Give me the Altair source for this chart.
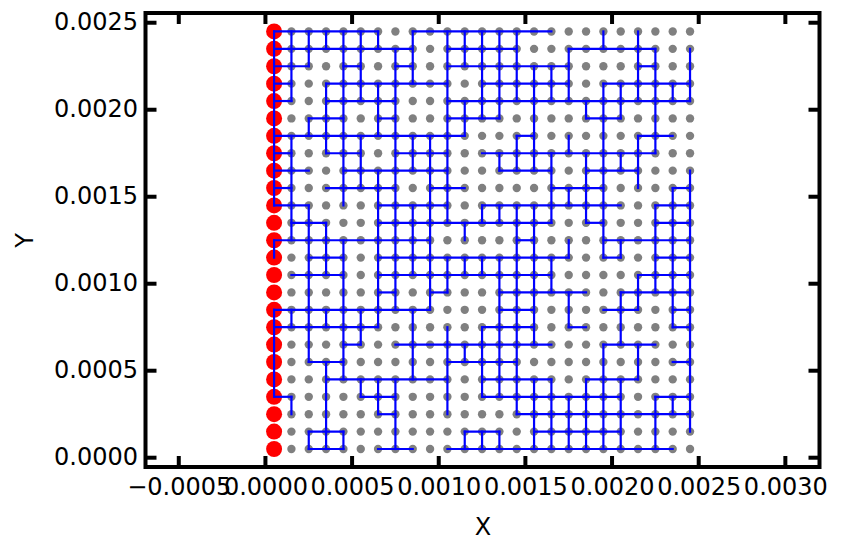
import altair as alt
import pandas as pd

# lattice
N = 25
STEP = 0.0001
ORIGIN = 0.00005
x_ticks = [-0.0005, 0.0, 0.0005, 0.001, 0.0015, 0.002, 0.0025, 0.003]
y_ticks = [0.0, 0.0005, 0.001, 0.0015, 0.002, 0.0025]
x_domain = [-0.000692, 0.003197]
y_domain = [-0.0000534, 0.002556]

# horizontal runs per row (row 0 = top): (first column, last column)
h_runs = {
    0: [(0, 6), (8, 16)],
    1: [(0, 8), (10, 14), (17, 22)],
    2: [(0, 2), (4, 5), (7, 8), (10, 17), (21, 22)],
    3: [(0, 1), (3, 10), (12, 17), (19, 24)],
    4: [(0, 1), (3, 7), (10, 24)],
    5: [(2, 4), (6, 7), (10, 13), (18, 20)],
    6: [(0, 11), (14, 15), (21, 23)],
    7: [(0, 1), (3, 5), (7, 10), (12, 22)],
    8: [(0, 2), (4, 10), (13, 16), (18, 21)],
    9: [(0, 1), (3, 7), (9, 11), (16, 19), (23, 24)],
    10: [(0, 2), (6, 10), (12, 20), (22, 24)],
    11: [(1, 3), (6, 16), (18, 19), (22, 24)],
    12: [(0, 9), (14, 15), (19, 24)],
    13: [(2, 4), (6, 17), (19, 20), (22, 24)],
    14: [(1, 4), (6, 16), (21, 24)],
    15: [(6, 7), (9, 10), (13, 18), (20, 24)],
    16: [(0, 9), (13, 15), (19, 21), (23, 24)],
    17: [(0, 6), (12, 15), (17, 18), (23, 24)],
    18: [(4, 5), (7, 16), (19, 22)],
    19: [(2, 4), (10, 14), (23, 24)],
    20: [(3, 10), (12, 16), (18, 21)],
    21: [(0, 1), (5, 7), (12, 20), (22, 24)],
    22: [(6, 7), (14, 24)],
    23: [(2, 4), (11, 13), (15, 20)],
    24: [(2, 4), (6, 8), (10, 23)],
}

# vertical runs per column: (first row, last row)
v_runs = {
    0: [(0, 10), (12, 13), (16, 21)],
    1: [(0, 4), (6, 12), (16, 17), (21, 22)],
    2: [(0, 2), (5, 6), (10, 19), (23, 24)],
    3: [(0, 1), (3, 7), (11, 14), (16, 17), (19, 24)],
    4: [(0, 10), (12, 20), (23, 24)],
    5: [(0, 4), (6, 9), (16, 18), (20, 21)],
    6: [(0, 1), (3, 6), (8, 17), (20, 22)],
    7: [(1, 16), (20, 24)],
    8: [(0, 3), (6, 8), (10, 14), (16, 20)],
    9: [(6, 16)],
    10: [(0, 11), (13, 15), (17, 22)],
    11: [(0, 2), (4, 6), (11, 12), (13, 14), (18, 19), (23, 24)],
    12: [(0, 5), (10, 11), (13, 14), (17, 21), (23, 24)],
    13: [(0, 5), (7, 8), (10, 11), (13, 21), (23, 24)],
    14: [(0, 4), (6, 8), (10, 22)],
    15: [(2, 8), (10, 18), (20, 24)],
    16: [(2, 4), (7, 11), (13, 15), (20, 24)],
    17: [(1, 4), (6, 7), (9, 10), (12, 13), (15, 17), (21, 24)],
    18: [(4, 5), (7, 11), (20, 24)],
    19: [(0, 1), (3, 13), (18, 24)],
    20: [(3, 5), (7, 8), (12, 13), (15, 18), (20, 24)],
    21: [(0, 4), (6, 9), (14, 16), (18, 20)],
    22: [(1, 7), (10, 15), (21, 24)],
    23: [(3, 4), (9, 17), (21, 22)],
    24: [(1, 4), (8, 23)],
}


def cx(c):
    return ORIGIN + c * STEP


def ry(r):
    return ORIGIN + (N - 1 - r) * STEP


segments = []
for r, runs in h_runs.items():
    for a, b in runs:
        segments.append({"x": cx(a), "x2": cx(b), "y": ry(r), "y2": ry(r)})
for c, runs in v_runs.items():
    for a, b in runs:
        segments.append({"x": cx(c), "x2": cx(c), "y": ry(a), "y2": ry(b)})
seg_df = pd.DataFrame(segments)

gray_df = pd.DataFrame([{"x": cx(c), "y": ry(r)} for c in range(1, N) for r in range(N)])
red_df = pd.DataFrame([{"x": cx(0), "y": ry(r)} for r in range(N)])
xt_df = pd.DataFrame({"t": x_ticks})
yt_df = pd.DataFrame({"t": y_ticks})

W = 674
H = 454
TICK = 11
FONT = "DejaVu Sans"

xs = alt.Scale(domain=x_domain, nice=False, zero=False)
ys = alt.Scale(domain=y_domain, nice=False, zero=False)

x_axis = alt.Axis(values=x_ticks, format=".4f", title="X", grid=False, ticks=False, domain=False,
                  labelFont=FONT, labelFontSize=24, labelColor="black", labelPadding=8,
                  labelOverlap=False, labelBound=False, labelFlush=False,
                  titleFont=FONT, titleFontSize=24, titleFontWeight="normal", titleColor="black",
                  titlePadding=16)
y_axis = alt.Axis(values=y_ticks, format=".4f", title="Y", grid=False, ticks=False, domain=False,
                  labelFont=FONT, labelFontSize=24, labelColor="black", labelPadding=8,
                  labelOverlap=False,
                  titleFont=FONT, titleFontSize=24, titleFontWeight="normal", titleColor="black",
                  titlePadding=16)

gray = alt.Chart(gray_df).mark_circle(color="#808080", opacity=1, size=70).encode(
    x=alt.X("x:Q", scale=xs, axis=x_axis),
    y=alt.Y("y:Q", scale=ys, axis=y_axis),
)
red = alt.Chart(red_df).mark_circle(color="#ff0000", opacity=1, size=256).encode(
    x=alt.X("x:Q", scale=xs, axis=x_axis),
    y=alt.Y("y:Q", scale=ys, axis=y_axis),
)
lines = alt.Chart(seg_df).mark_rule(color="#0000ff", strokeWidth=2.2, strokeCap="square").encode(
    x=alt.X("x:Q", scale=xs, axis=x_axis),
    x2="x2:Q",
    y=alt.Y("y:Q", scale=ys, axis=y_axis),
    y2="y2:Q",
)


def xticks(y0, y1):
    return alt.Chart(xt_df).mark_rule(color="black", strokeWidth=4).encode(
        x=alt.X("t:Q", scale=xs, axis=x_axis),
        y=alt.value(y0), y2=alt.value(y1),
    )


def yticks(x0, x1):
    return alt.Chart(yt_df).mark_rule(color="black", strokeWidth=4).encode(
        y=alt.Y("t:Q", scale=ys, axis=y_axis),
        x=alt.value(x0), x2=alt.value(x1),
    )


chart = alt.layer(
    gray, red, lines,
    xticks(H, H - TICK), xticks(0, TICK),
    yticks(0, TICK), yticks(W, W - TICK),
).properties(
    width=W, height=H,
    background="white",
    autosize=alt.AutoSizeParams(type="none"),
    padding={"left": 137.5, "top": 5, "right": 14, "bottom": 76},
).configure_view(stroke="black", strokeWidth=4)

chart.save("out.html", embed_options={"renderer": "svg", "actions": False})
